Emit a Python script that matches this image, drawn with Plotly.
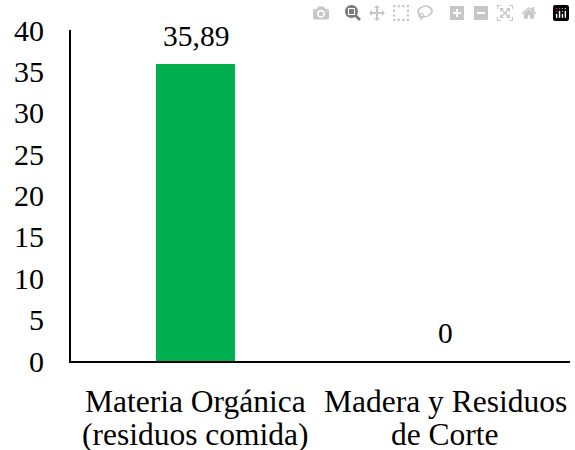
import plotly.graph_objects as go

categories = ["Materia Orgánica (residuos comida)", "Madera y Residuos de Corte"]
category_lines = [["Materia Orgánica", "(residuos comida)"], ["Madera y Residuos", "de Corte"]]
values = [35.89, 0]
value_labels = ["35,89", "0"]
y_ticks = [0, 5, 10, 15, 20, 25, 30, 35, 40]

FONT = "Liberation Serif"

fig = go.Figure()
fig.add_trace(go.Bar(
    x=categories, y=values,
    marker=dict(color="#00B050", line=dict(width=0)),
    width=0.318,
    showlegend=False,
    hoverinfo="skip",
))

# data labels
for c, v, t in zip(categories, values, value_labels):
    fig.add_annotation(x=c, y=v, text=t, showarrow=False,
                       yanchor="bottom", yshift=10,
                       font=dict(family=FONT, size=29.5, color="black"))

# category labels (two lines each, tight line spacing)
for c, lines in zip(categories, category_lines):
    for i, line in enumerate(lines):
        fig.add_annotation(x=c, xref="x", y=0, yref="paper", text=line,
                           showarrow=False, yanchor="top", yshift=-21 - 33 * i,
                           font=dict(family=FONT, size=31.5, color="black"))

fig.update_layout(
    width=575, height=450,
    margin=dict(l=71, r=5, t=30, b=89),
    paper_bgcolor="white", plot_bgcolor="white",
    bargap=0,
)
fig.update_yaxes(
    range=[0, 40], tickvals=y_ticks, showgrid=False, zeroline=False,
    showline=True, linecolor="black", linewidth=2,
    ticks="", ticklabelstandoff=19, automargin=False,
    tickfont=dict(family=FONT, size=30, color="black"),
)
fig.update_xaxes(
    showgrid=False, zeroline=False,
    showline=True, linecolor="black", linewidth=2,
    ticks="", showticklabels=False, automargin=False,
)

fig.write_html("out.html", post_script="document.body.style.margin='0';")
